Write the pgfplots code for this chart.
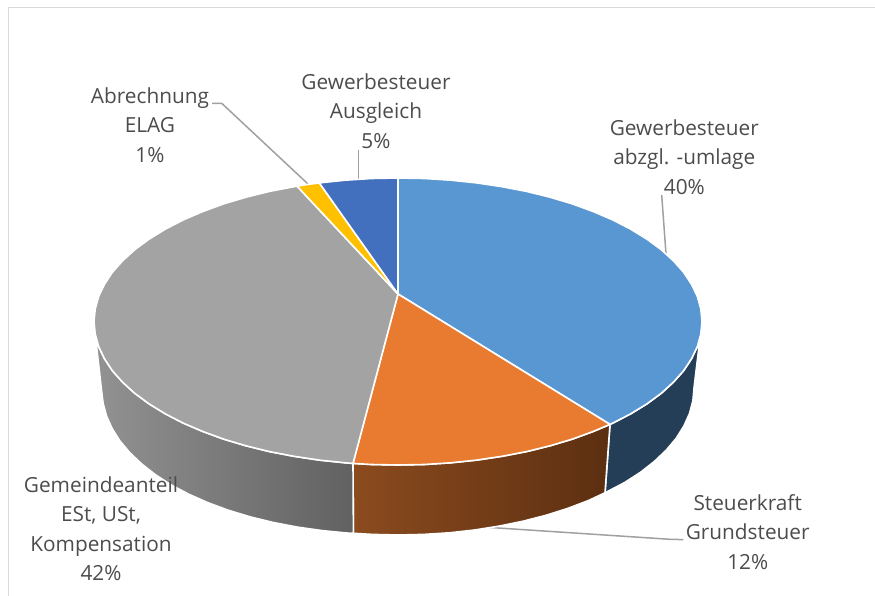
\documentclass[border=0pt]{standalone}
\usepackage{fontspec}
\setmainfont{Open Sans}
\usepackage{pgfplots}
\pgfplotsset{compat=1.18}
\definecolor{cblue}{HTML}{5997D3}
\definecolor{corange}{HTML}{E97B30}
\definecolor{cgray}{HTML}{A3A3A3}
\definecolor{cgold}{HTML}{FFC000}
\definecolor{cdblue}{HTML}{4270BF}
\definecolor{sblue}{HTML}{233E56}
\definecolor{soL}{HTML}{8B4B1E}
\definecolor{soM}{HTML}{633214}
\definecolor{soR}{HTML}{5C2F11}
\definecolor{sgL}{HTML}{929292}
\definecolor{sgR}{HTML}{616161}
\definecolor{frame}{HTML}{D9D9D9}
\definecolor{lead}{HTML}{A0A0A0}
\definecolor{txt}{HTML}{4C4C4C}
\tikzset{face/.style={draw=white,line width=1.6pt,line join=round},
  lab/.style={font=\fontsize{20.8}{29.5}\selectfont,align=center,text=txt,inner sep=0pt}}
\begin{document}
\begin{tikzpicture}
\useasboundingbox (0,0) rectangle (875pt,596pt);
\begin{axis}[at={(0,0)},anchor=south west,scale only axis,width=875pt,height=596pt,
  xmin=0,xmax=875,ymin=0,ymax=596,y dir=reverse,hide axis,clip=false,
  every axis plot/.append style={no markers}]
% frame
\addplot[frame,line width=1.3pt] coordinates {(8.5,596) (8.5,7.5) (875,7.5)};
% leader lines
\addplot[lead,line width=1.5pt] coordinates {(212,103.3) (221.7,103.3) (308,184)};
\addplot[lead,line width=1.5pt] coordinates {(358.3,150) (358.3,180)};
\addplot[lead,line width=1.5pt] coordinates {(661.7,195) (666,254)};
\addplot[lead,line width=1.5pt] coordinates {(483,527) (670,539.3) (683.3,539.6)};
% sides
\addplot[face,fill=sblue] coordinates {(702,321.5) (700.8,334) (697.4,346.4) (691.6,358.6) (683.7,370.6) (673.5,382.1) (661.3,393.25) (647,403.8) (630.9,413.7) (613,423) (610,424.4) (605,492.8) (624.7,482.5) (640.5,472.3) (654.3,461.5) (666.3,450.1) (676.2,438.3) (683.9,426) (689.5,413.5) (692.9,400.8) (694,388)} -- cycle;
\addplot[face,left color=soL,middle color=soM,right color=soR] coordinates {(610,424.4) (593.4,431.4) (572.4,439.1) (550,445.8) (526.5,451.6) (502,456.3) (476.7,460.1) (450.8,462.8) (424.5,464.5) (398,465) (371.5,464.5) (353,463.4) (353.4,533.3) (372.2,534.4) (398,535) (423.8,534.4) (449.4,532.8) (474.6,530) (499.2,526.1) (523.1,521.2) (546,515.3) (567.8,508.4) (588.3,500.6) (605,492.8)} -- cycle;
\addplot[face,left color=sgL,right color=sgR] coordinates {(353,463.4) (345.2,462.8) (319.3,460.1) (294,456.3) (269.5,451.6) (246,445.8) (223.6,439.1) (202.6,431.4) (183,423) (165.1,413.7) (149,403.8) (134.7,393.25) (122.5,382.1) (112.3,370.6) (104.4,358.6) (98.6,346.4) (95.2,334) (101.5,390) (103.1,403.3) (106.5,416) (112.1,428.5) (119.8,440.8) (129.7,452.6) (141.7,464) (155.5,474.8) (171.3,485) (188.7,494.2) (207.7,502.6) (228.2,510.2) (250,516.8) (272.9,522.4) (296.8,527) (321.4,530.5) (346.6,533) (353.4,533.3)} -- cycle;
% top faces
\addplot[face,fill=cblue] coordinates {(398,294) (398,178) (424.5,178.5) (450.8,180.2) (476.7,182.9) (502,186.7) (526.5,191.4) (550,197.2) (572.4,203.9) (593.4,211.6) (613,220) (630.9,229.3) (647,239.2) (661.3,249.75) (673.5,260.9) (683.7,272.4) (691.6,284.4) (697.4,296.6) (700.8,309) (702,321.5) (700.8,334) (697.4,346.4) (691.6,358.6) (683.7,370.6) (673.5,382.1) (661.3,393.25) (647,403.8) (630.9,413.7) (613,423) (610,424.4)} -- cycle;
\addplot[face,fill=corange] coordinates {(398,294) (610,424.4) (593.4,431.4) (572.4,439.1) (550,445.8) (526.5,451.6) (502,456.3) (476.7,460.1) (450.8,462.8) (424.5,464.5) (398,465) (371.5,464.5) (353,463.4)} -- cycle;
\addplot[face,fill=cgray] coordinates {(398,294) (353,463.4) (345.2,462.8) (319.3,460.1) (294,456.3) (269.5,451.6) (246,445.8) (223.6,439.1) (202.6,431.4) (183,423) (165.1,413.7) (149,403.8) (134.7,393.25) (122.5,382.1) (112.3,370.6) (104.4,358.6) (98.6,346.4) (95.2,334) (94,321.5) (95.2,309) (98.6,296.6) (104.4,284.4) (112.3,272.4) (122.5,260.9) (134.7,249.75) (149,239.2) (165.1,229.3) (183,220) (202.6,211.6) (223.6,203.9) (246,197.2) (269.5,191.4) (294,186.7) (297,186.1)} -- cycle;
\addplot[face,fill=cgold] coordinates {(398,294) (297,186.1) (308,184.4) (319.3,182.9)} -- cycle;
\addplot[face,fill=cdblue] coordinates {(398,294) (319.3,182.9) (345.2,180.2) (371.5,178.5) (398,178)} -- cycle;
% labels
\node[lab] at (axis cs:150,125) {Abrechnung\\ELAG\\1\%};
\node[lab] at (axis cs:376,111) {Gewerbesteuer\\Ausgleich\\5\%};
\node[lab] at (axis cs:684.3,157) {Gewerbesteuer\\abzgl. -umlage\\40\%};
\node[lab] at (axis cs:747.7,532) {Steuerkraft\\Grundsteuer\\12\%};
\node[lab] at (axis cs:101,528.5) {Gemeindeanteil\\ESt, USt,\\Kompensation\\42\%};
\end{axis}
\end{tikzpicture}
\end{document}
